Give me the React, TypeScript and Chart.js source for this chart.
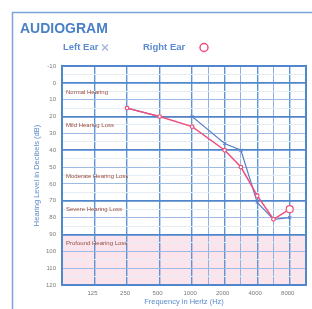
import React, { useEffect, useRef } from "react";
import { Chart, registerables } from "chart.js";

Chart.register(...registerables);

// Column slots of the audiogram (half-octave slots; blank = no grid line)
const xSlots = ["", "", "125", "", "250", "", "500", "", "1000", "1500", "2000", "3000", "4000", "6000", "8000", ""];
const xTickLabels = ["125", "250", "500", "1000", "2000", "4000", "8000"];
const halfOctaves = ["1500", "3000", "6000"];

const yTickValues = [-10, 0, 10, 20, 30, 40, 50, 60, 70, 80, 90, 100, 110, 120];
const thickLevels = [0, 20, 40, 70, 90];

// Right ear (red circles)
const rightFreqs = ["250", "500", "1000", "2000", "3000", "4000", "6000", "8000"];
const rightLevels = [15, 20, 26, 40, 50, 67, 81, 75];

// Left ear (blue crosses)
const leftFreqs = ["250", "500", "1000", "2000", "3000", "4000", "6000", "8000"];
const leftLevels = [15, 20, 20, 36, 40, 71, 81, 80];

const bandNames = ["Normal Hearing", "Mild Hearing Loss", "Moderate Hearing Loss", "Severe Hearing Loss", "Profound Hearing Loss"];
const bandLabelLevels = [5.5, 25, 55.5, 75, 95];
const profoundRange = [90, 120];

const BLUE = "#4f86cc";
const TEXT_BLUE = "#5b8bcf";
const RED = "#ef4f7c";
const FONT = "'Liberation Sans', Arial, sans-serif";

const decorPlugin = {
  id: "audiogramDecor",
  beforeDraw(chart: any) {
    const { ctx, chartArea: a, scales } = chart;
    const y = scales.y;
    ctx.save();
    ctx.fillStyle = "#ffffff";
    ctx.fillRect(0, 0, chart.width, chart.height);
    const y0 = y.getPixelForValue(profoundRange[0]);
    const y1 = y.getPixelForValue(profoundRange[1]);
    ctx.fillStyle = "#fce4ed";
    ctx.fillRect(a.left, y0, a.right - a.left, y1 - y0);
    // outer frame
    ctx.strokeStyle = "#7aa5da";
    ctx.lineWidth = 1.5;
    ctx.strokeRect(12.5, 12.5, 400, 400);
    ctx.restore();
  },
  beforeDatasetsDraw(chart: any) {
    const { ctx, chartArea: a, scales } = chart;
    const y = scales.y;
    ctx.save();
    ctx.strokeStyle = BLUE;
    ctx.lineWidth = 2;
    ctx.strokeRect(a.left, a.top, a.right - a.left, a.bottom - a.top);
    ctx.fillStyle = "#9a4b3c";
    ctx.font = `6px ${FONT}`;
    ctx.textAlign = "left";
    ctx.textBaseline = "middle";
    bandNames.forEach((n, i) => {
      ctx.fillText(n, a.left + 4, y.getPixelForValue(bandLabelLevels[i]));
    });
    ctx.restore();
  },
  afterDraw(chart: any) {
    const { ctx, chartArea: a, scales } = chart;
    const x = scales.x;
    const y = scales.y;
    ctx.save();
    // y tick labels
    ctx.fillStyle = "#7a7a7a";
    ctx.font = `6px ${FONT}`;
    ctx.textAlign = "right";
    ctx.textBaseline = "middle";
    yTickValues.forEach((v) => ctx.fillText(String(v), a.left - 6, y.getPixelForValue(v)));
    // x tick labels
    ctx.textAlign = "center";
    ctx.textBaseline = "middle";
    xTickLabels.forEach((f) => ctx.fillText(f, x.getPixelForValue(xSlots.indexOf(f)) - 2, a.bottom + 8));
    // axis titles
    ctx.fillStyle = TEXT_BLUE;
    ctx.font = `7.5px ${FONT}`;
    ctx.fillText("Frequency in Hertz (Hz)", (a.left + a.right) / 2, a.bottom + 17);
    ctx.save();
    ctx.translate(37, (a.top + a.bottom) / 2);
    ctx.rotate(-Math.PI / 2);
    ctx.fillText("Hearing Level in Decibels (dB)", 0, 0);
    ctx.restore();
    // title
    ctx.fillStyle = "#4a80c4";
    ctx.font = `bold 14px ${FONT}`;
    ctx.textAlign = "left";
    ctx.fillText("AUDIOGRAM", 20, 29);
    // legend
    ctx.fillStyle = TEXT_BLUE;
    ctx.font = `bold 9.5px ${FONT}`;
    ctx.fillText("Left Ear", 63, 47.5);
    ctx.fillText("Right Ear", 143, 47.5);
    ctx.strokeStyle = "#9fb4da";
    ctx.lineWidth = 1.2;
    ctx.beginPath();
    ctx.moveTo(102, 44.5); ctx.lineTo(108, 50.5);
    ctx.moveTo(108, 44.5); ctx.lineTo(102, 50.5);
    ctx.stroke();
    ctx.strokeStyle = RED;
    ctx.lineWidth = 1.5;
    ctx.beginPath();
    ctx.arc(204, 47.5, 4, 0, Math.PI * 2);
    ctx.stroke();
    ctx.restore();
  },
};

export default function App() {
  const ref = useRef<HTMLCanvasElement | null>(null);

  useEffect(() => {
    if (!ref.current) return;
    const chart = new Chart(ref.current, {
      type: "line",
      data: {
        labels: xSlots,
        datasets: [
          {
            label: "Right Ear",
            data: rightFreqs.map((f, i) => ({ x: f, y: rightLevels[i] })) as any,
            borderColor: RED,
            backgroundColor: "#ffffff",
            borderWidth: 1.5,
            pointStyle: "circle",
            pointRadius: (c: any) => (c.dataIndex === rightFreqs.length - 1 ? 3.5 : 1.8),
            pointBorderWidth: 1.2,
            pointBorderColor: RED,
            tension: 0,
            order: 0,
          },
          {
            label: "Left Ear",
            data: leftFreqs.map((f, i) => ({ x: f, y: leftLevels[i] })) as any,
            borderColor: "#5c7fc6",
            backgroundColor: "#5c7fc6",
            borderWidth: 1.2,
            pointStyle: "crossRot",
            pointRadius: 2.2,
            pointBorderWidth: 1,
            tension: 0,
            order: 1,
          },
        ],
      },
      options: {
        animation: false,
        responsive: false,
        devicePixelRatio: 1,
        layout: { padding: { left: 62, top: 66, right: 6, bottom: 24 } },
        plugins: { legend: { display: false }, tooltip: { enabled: false }, title: { display: false } },
        events: [],
        scales: {
          x: {
            type: "category",
            labels: xSlots,
            offset: false,
            border: { display: false },
            ticks: { display: false },
            grid: {
              drawTicks: false,
              color: (c: any) => {
                const lab = xSlots[c.index];
                if (!lab) return "rgba(0,0,0,0)";
                if (halfOctaves.includes(lab)) return "#8fb2e0";
                return "#5f93d4";
              },
              lineWidth: (c: any) => {
                const lab = xSlots[c.index];
                if (halfOctaves.includes(lab)) return 1;
                return 1.4;
              },
            },
          },
          y: {
            type: "linear",
            reverse: true,
            min: -10,
            max: 120,
            border: { display: false },
            ticks: { display: false, stepSize: 5 },
            grid: {
              drawTicks: false,
              color: (c: any) => {
                const v = c.tick.value;
                if (v % 10 !== 0) return "#e4ecf6";
                if (thickLevels.includes(v)) return "#4f86cc";
                return "#9dbbe3";
              },
              lineWidth: (c: any) => {
                const v = c.tick.value;
                if (v % 10 !== 0) return 1;
                if (thickLevels.includes(v)) return 1.8;
                return 1;
              },
            },
          },
        },
      },
      plugins: [decorPlugin],
    });
    return () => chart.destroy();
  }, []);

  return (
    <div style={{ position: "fixed", left: 0, top: 0, width: 312, height: 309, background: "#fff" }}>
      <canvas ref={ref} width={312} height={309} style={{ display: "block", width: 312, height: 309 }} />
    </div>
  );
}
